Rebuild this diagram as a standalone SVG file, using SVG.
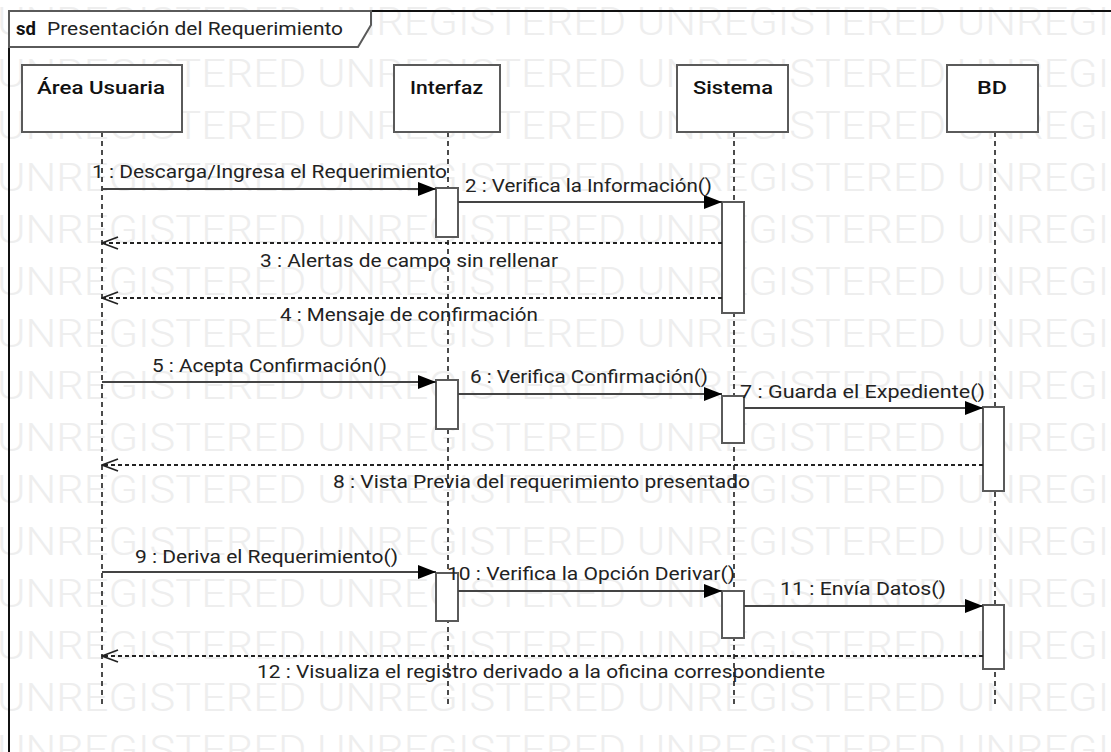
<svg xmlns="http://www.w3.org/2000/svg" width="1111" height="752" viewBox="0 0 1111 752">
<style>
.wm{font-family:Roboto,"Liberation Sans",Arial,sans-serif;font-size:39px;font-weight:300;fill:#eeeeee}
.box{fill:#fff;stroke:#5a5a5a;stroke-width:2}
.bar{fill:#fff;stroke:#5a5a5a;stroke-width:2}
.life{stroke:#111;stroke-width:1.5;stroke-dasharray:5 4;fill:none}
.hd{font-family:Roboto,"Liberation Sans",Arial,sans-serif;font-size:18.5px;font-weight:500;fill:#111}
.lbl{font-family:Roboto,"Liberation Sans",Arial,sans-serif;font-size:18.5px;fill:#222}
.msg{stroke:#444;stroke-width:2;fill:none;marker-end:url(#fill)}
.ret{stroke:#222;stroke-width:2;stroke-dasharray:4 3;fill:none;marker-end:url(#open)}
</style>
<defs>
<marker id="fill" markerUnits="userSpaceOnUse" markerWidth="18" markerHeight="14" refX="18" refY="7" orient="auto">
<path d="M0,0 L18,7 L0,14 z" fill="#000"/>
</marker>
<marker id="open" markerUnits="userSpaceOnUse" markerWidth="18" markerHeight="14" refX="17" refY="7" orient="auto">
<path d="M1,1 L17,7 L1,13" fill="none" stroke="#222" stroke-width="1.8"/>
</marker>
</defs>
<rect x="0" y="0" width="1111" height="752" fill="#fff"/>
<g id="watermark">
<text class="wm" x="-3" y="35" textLength="1269" lengthAdjust="spacingAndGlyphs">UNREGISTERED UNREGISTERED UNREGISTERED UNREGISTERED</text>
<text class="wm" x="-3" y="87" textLength="1269" lengthAdjust="spacingAndGlyphs">UNREGISTERED UNREGISTERED UNREGISTERED UNREGISTERED</text>
<text class="wm" x="-3" y="139" textLength="1269" lengthAdjust="spacingAndGlyphs">UNREGISTERED UNREGISTERED UNREGISTERED UNREGISTERED</text>
<text class="wm" x="-3" y="191" textLength="1269" lengthAdjust="spacingAndGlyphs">UNREGISTERED UNREGISTERED UNREGISTERED UNREGISTERED</text>
<text class="wm" x="-3" y="243" textLength="1269" lengthAdjust="spacingAndGlyphs">UNREGISTERED UNREGISTERED UNREGISTERED UNREGISTERED</text>
<text class="wm" x="-3" y="295" textLength="1269" lengthAdjust="spacingAndGlyphs">UNREGISTERED UNREGISTERED UNREGISTERED UNREGISTERED</text>
<text class="wm" x="-3" y="347" textLength="1269" lengthAdjust="spacingAndGlyphs">UNREGISTERED UNREGISTERED UNREGISTERED UNREGISTERED</text>
<text class="wm" x="-3" y="399" textLength="1269" lengthAdjust="spacingAndGlyphs">UNREGISTERED UNREGISTERED UNREGISTERED UNREGISTERED</text>
<text class="wm" x="-3" y="451" textLength="1269" lengthAdjust="spacingAndGlyphs">UNREGISTERED UNREGISTERED UNREGISTERED UNREGISTERED</text>
<text class="wm" x="-3" y="503" textLength="1269" lengthAdjust="spacingAndGlyphs">UNREGISTERED UNREGISTERED UNREGISTERED UNREGISTERED</text>
<text class="wm" x="-3" y="555" textLength="1269" lengthAdjust="spacingAndGlyphs">UNREGISTERED UNREGISTERED UNREGISTERED UNREGISTERED</text>
<text class="wm" x="-3" y="607" textLength="1269" lengthAdjust="spacingAndGlyphs">UNREGISTERED UNREGISTERED UNREGISTERED UNREGISTERED</text>
<text class="wm" x="-3" y="659" textLength="1269" lengthAdjust="spacingAndGlyphs">UNREGISTERED UNREGISTERED UNREGISTERED UNREGISTERED</text>
<text class="wm" x="-3" y="711" textLength="1269" lengthAdjust="spacingAndGlyphs">UNREGISTERED UNREGISTERED UNREGISTERED UNREGISTERED</text>
<text class="wm" x="-3" y="763" textLength="1269" lengthAdjust="spacingAndGlyphs">UNREGISTERED UNREGISTERED UNREGISTERED UNREGISTERED</text>
</g>
<g id="frame">
<path d="M9,752 L9,11 L1111,11" fill="none" stroke="#111" stroke-width="2"/>
<path d="M9,11 L371,11 L371,25 L358,47 L9,47 z" fill="#fff" stroke="#5a5a5a" stroke-width="2"/>
<text x="16" y="35" font-family="Roboto, Liberation Sans, Arial, sans-serif" font-size="18.5" font-weight="bold" fill="#111">sd</text>
<text class="lbl" x="47" y="35" textLength="296" lengthAdjust="spacingAndGlyphs">Presentación del Requerimiento</text>
</g>
<g id="area-usuaria">
<line class="life" x1="102" y1="132" x2="102" y2="706"/>
<rect class="box" x="22" y="65" width="160" height="67"/>
<text class="hd" x="37" y="94" textLength="128" lengthAdjust="spacingAndGlyphs">Área Usuaria</text>
</g>
<g id="interfaz">
<line class="life" x1="448" y1="132" x2="448" y2="706"/>
<rect class="box" x="394" y="65" width="106" height="67"/>
<text class="hd" x="410" y="94" textLength="73" lengthAdjust="spacingAndGlyphs">Interfaz</text>
<rect class="bar" x="436" y="188" width="22" height="49"/>
<rect class="bar" x="436" y="380" width="22" height="49"/>
<rect class="bar" x="436" y="573" width="22" height="48"/>
</g>
<g id="sistema">
<line class="life" x1="734" y1="132" x2="734" y2="706"/>
<rect class="box" x="677" y="65" width="111" height="67"/>
<text class="hd" x="693" y="94" textLength="80" lengthAdjust="spacingAndGlyphs">Sistema</text>
<rect class="bar" x="722" y="202" width="22" height="111"/>
<rect class="bar" x="722" y="396" width="22" height="47"/>
<rect class="bar" x="722" y="591" width="22" height="47"/>
</g>
<g id="bd">
<line class="life" x1="995" y1="132" x2="995" y2="706"/>
<rect class="box" x="947" y="65" width="91" height="67"/>
<text class="hd" x="977" y="94" textLength="30" lengthAdjust="spacingAndGlyphs">BD</text>
<rect class="bar" x="983" y="407" width="21" height="84"/>
<rect class="bar" x="983" y="605" width="21" height="64"/>
</g>
<g id="connectors">
<line class="msg" x1="102" y1="189" x2="436" y2="189"/>
<text class="lbl" x="92" y="178" textLength="355" lengthAdjust="spacingAndGlyphs">1 : Descarga/Ingresa el Requerimiento</text>
<line class="msg" x1="458" y1="202" x2="722" y2="202"/>
<text class="lbl" x="465" y="192" textLength="247" lengthAdjust="spacingAndGlyphs">2 : Verifica la Información()</text>
<line class="ret" x1="722" y1="243" x2="102" y2="243"/>
<text class="lbl" x="260" y="267" textLength="298" lengthAdjust="spacingAndGlyphs">3 : Alertas de campo sin rellenar</text>
<line class="ret" x1="722" y1="298" x2="102" y2="298"/>
<text class="lbl" x="280" y="321" textLength="258" lengthAdjust="spacingAndGlyphs">4 : Mensaje de confirmación</text>
<line class="msg" x1="102" y1="382" x2="436" y2="382"/>
<text class="lbl" x="152" y="372" textLength="235" lengthAdjust="spacingAndGlyphs">5 : Acepta Confirmación()</text>
<line class="msg" x1="458" y1="394" x2="722" y2="394"/>
<text class="lbl" x="470" y="383" textLength="238" lengthAdjust="spacingAndGlyphs">6 : Verifica Confirmación()</text>
<line class="msg" x1="744" y1="408" x2="983" y2="408"/>
<text class="lbl" x="740" y="398" textLength="245" lengthAdjust="spacingAndGlyphs">7 : Guarda el Expediente()</text>
<line class="ret" x1="983" y1="465" x2="102" y2="465"/>
<text class="lbl" x="333" y="488" textLength="417" lengthAdjust="spacingAndGlyphs">8 : Vista Previa del requerimiento presentado</text>
<line class="msg" x1="102" y1="572" x2="436" y2="572"/>
<text class="lbl" x="135" y="563" textLength="263" lengthAdjust="spacingAndGlyphs">9 : Deriva el Requerimiento()</text>
<line class="msg" x1="458" y1="591" x2="722" y2="591"/>
<text class="lbl" x="447" y="580" textLength="288" lengthAdjust="spacingAndGlyphs">10 : Verifica la Opción Derivar()</text>
<line class="msg" x1="744" y1="606" x2="983" y2="606"/>
<text class="lbl" x="780" y="595" textLength="166" lengthAdjust="spacingAndGlyphs">11 : Envía Datos()</text>
<line class="ret" x1="983" y1="656" x2="102" y2="656"/>
<text class="lbl" x="257" y="678" textLength="568" lengthAdjust="spacingAndGlyphs">12 : Visualiza el registro derivado a la oficina correspondiente</text>
</g>
</svg>
